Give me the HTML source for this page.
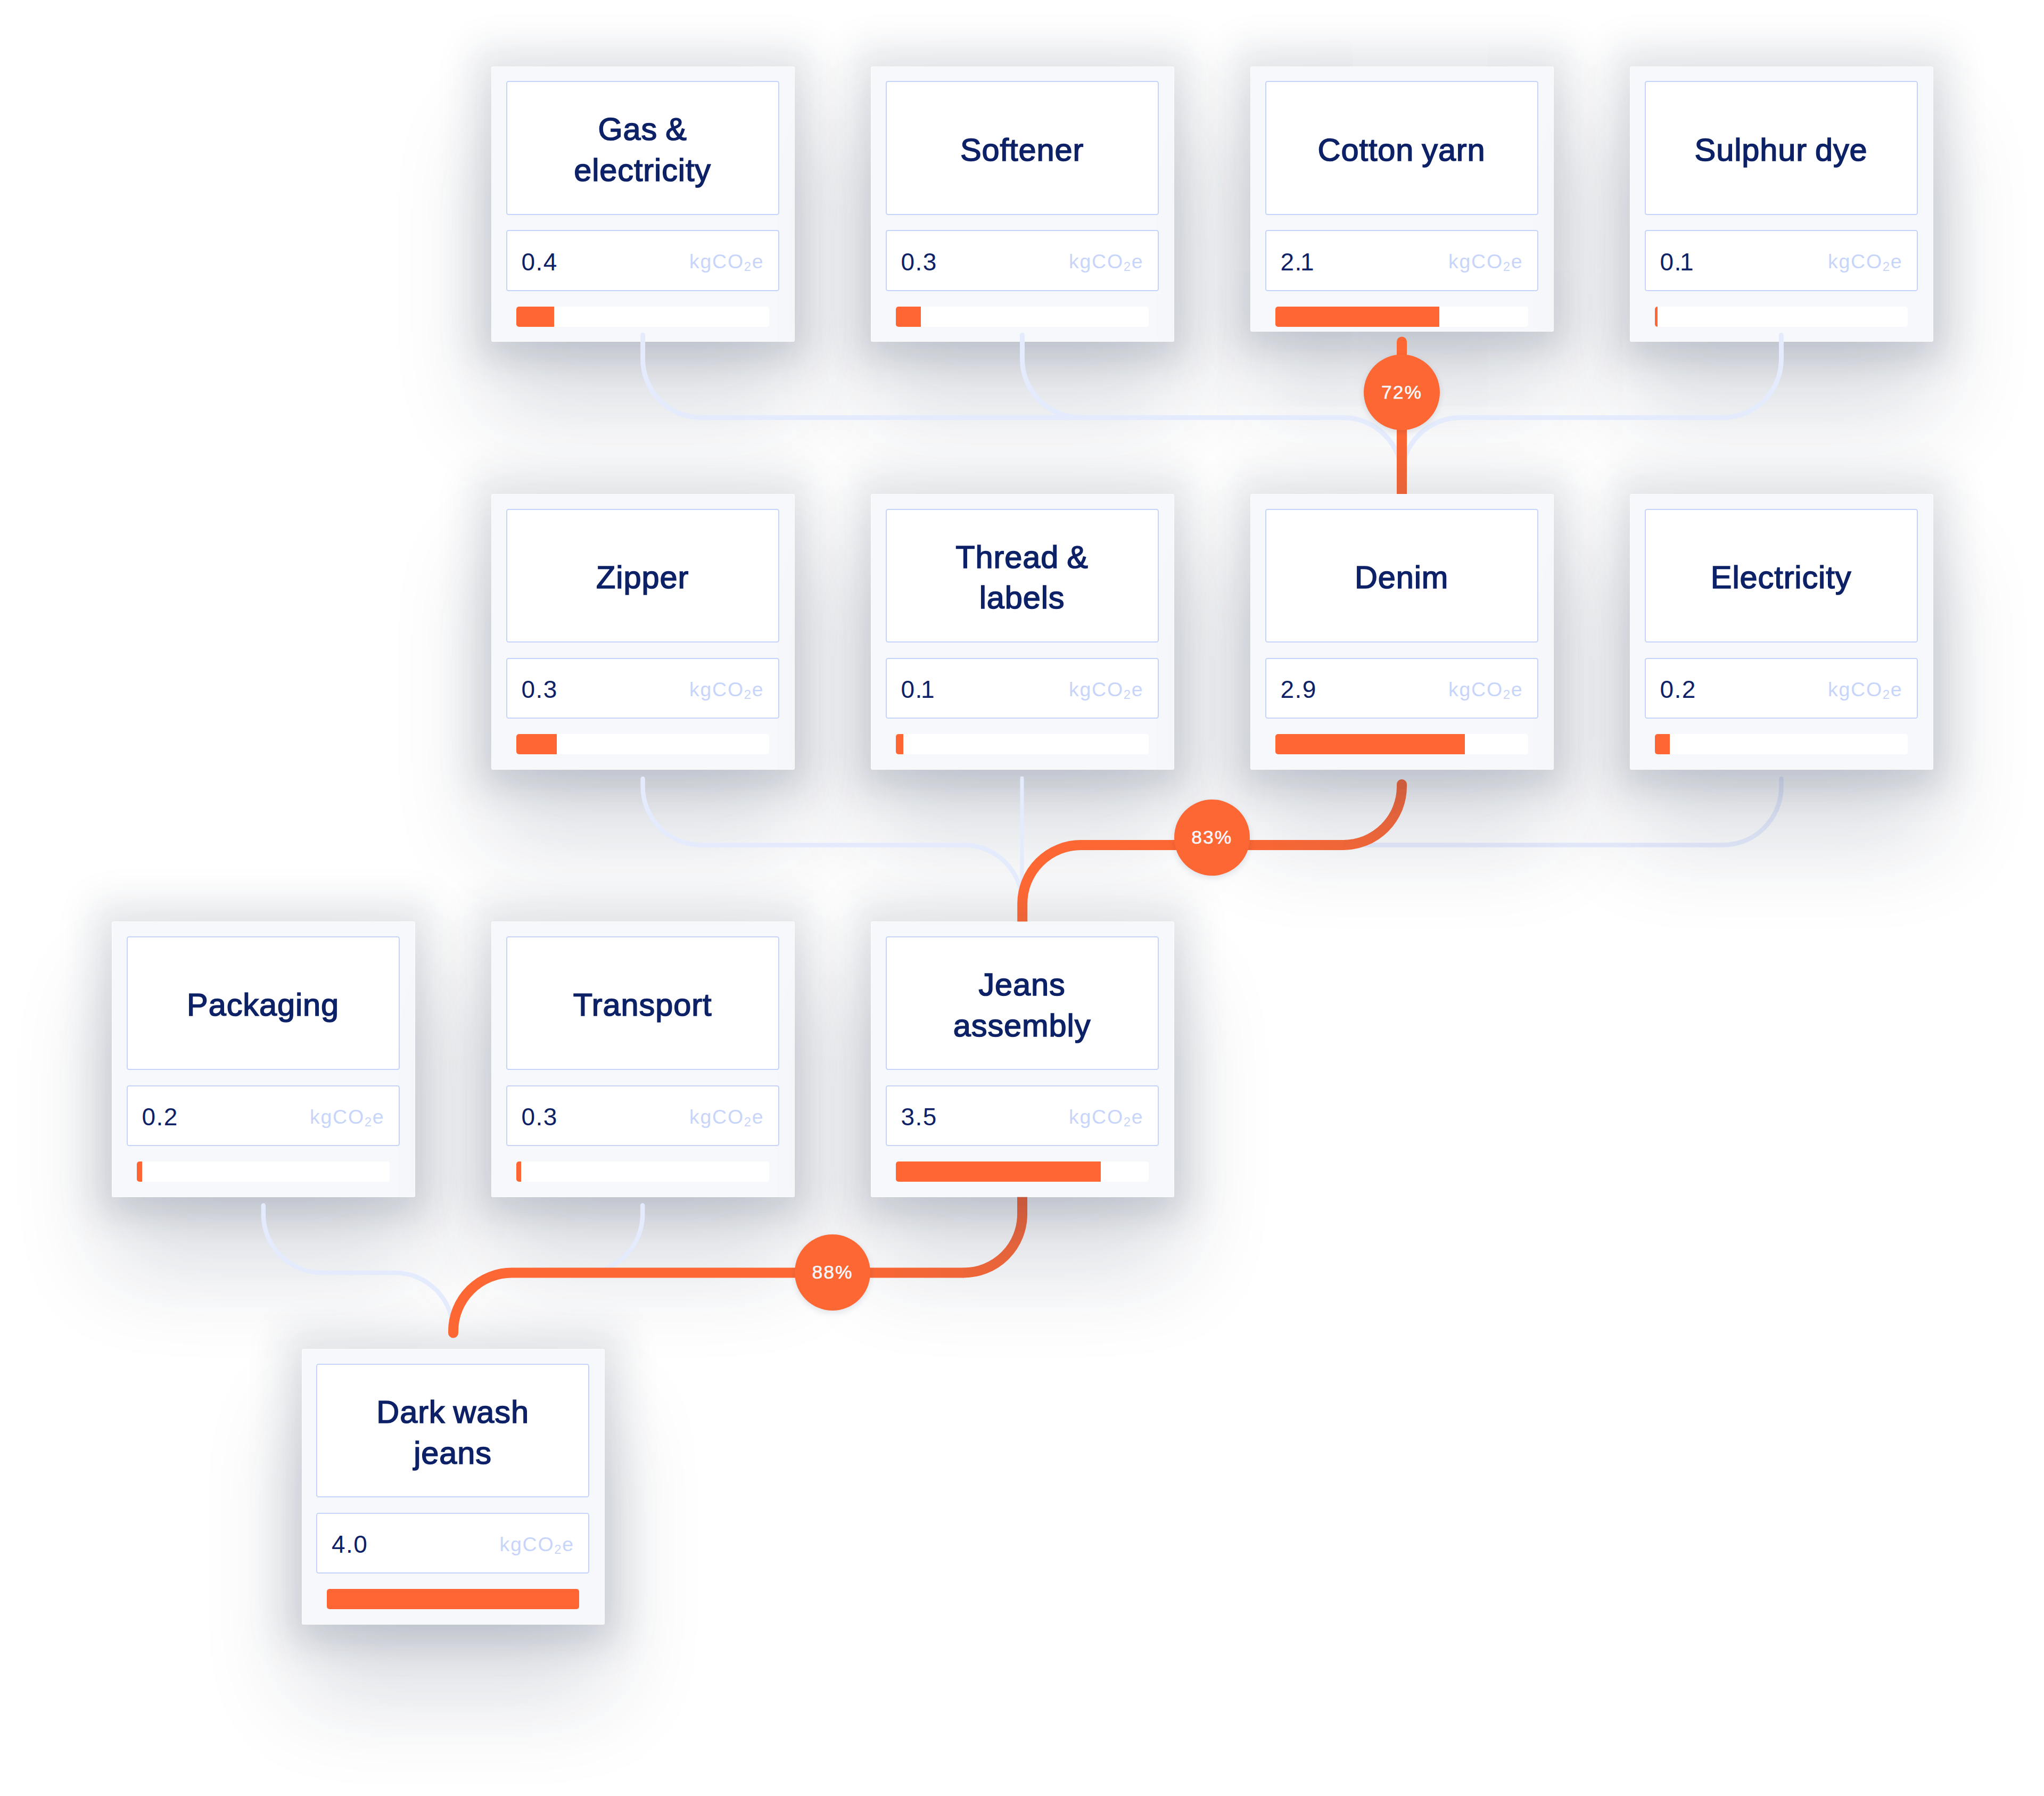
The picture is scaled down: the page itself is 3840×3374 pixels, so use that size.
<!DOCTYPE html>
<html lang="en">
<head>
<meta charset="utf-8">
<title>Dark wash jeans carbon footprint</title>
<style>
html,body{margin:0;padding:0;background:#fff;}
body{width:3840px;height:3374px;overflow:hidden;font-family:"Liberation Sans",sans-serif;}
.stage{position:relative;width:3840px;height:3374px;overflow:hidden;background:#fff;}
.lines{position:absolute;left:0;top:0;}
.under{z-index:2;}
.over{z-index:4;}
.card{position:absolute;width:569.6px;box-sizing:border-box;background:#f7f8fc;border-radius:3.5px;box-shadow:0 0 0 1px rgba(255,255,255,.7) inset,0 30px 50px 0 rgba(30,42,95,.04),0 0 70px 36px rgba(30,42,73,.115),0 125px 180px 8px rgba(26,36,68,.155);}
.title{position:absolute;left:27.5px;top:27.5px;width:513.2px;height:251.5px;box-sizing:border-box;border:2.6px solid #c6d4fb;border-radius:4.5px;background:#fff;
 display:flex;align-items:center;justify-content:center;text-align:center;color:#0d2167;font-size:59.5px;line-height:76.5px;font-weight:normal;-webkit-text-stroke:1.6px #0d2167;letter-spacing:.9px;word-spacing:-2.5px;padding-top:8px;}
.value{position:absolute;left:27.5px;top:307.7px;width:513.2px;height:114.5px;box-sizing:border-box;border:2.6px solid #c6d4fb;border-radius:4.5px;background:#fff;color:#0d2167;}
.num{position:absolute;left:27px;top:3.5px;line-height:109px;font-size:46px;letter-spacing:1.5px;}
.unit{position:absolute;right:26.3px;top:3px;line-height:109px;font-size:37.5px;color:#c8d5fa;letter-spacing:1.7px;}
.unit sub{font-size:24px;vertical-align:baseline;position:relative;top:5px;}
.bar{position:absolute;left:47px;top:451px;width:474.8px;height:38px;border-radius:5px;background:#fff;overflow:hidden;}
.bar i{display:block;height:100%;background:#ff6633;}
.badge{position:absolute;z-index:6;width:142.5px;height:142.5px;border-radius:50%;background:#fd6733;color:#fff;font-size:35.5px;line-height:142px;text-align:center;letter-spacing:2px;-webkit-text-stroke:.6px #f6f7fc;color:#f6f7fc;box-shadow:0 4px 12px rgba(20,30,70,.12);}

.num b{font-weight:normal;margin-left:-4px;}

</style>
</head>
<body>
<div class="stage">
<svg class="lines under" width="3840" height="3374" viewBox="0 0 3840 3374" fill="none" stroke-linecap="round" stroke-linejoin="round">
<path d="M3346.5 1463V1477.5A110 110 0 0 1 3236.5 1587.5H2520" stroke="#e8efff" stroke-width="8.5"/>
</svg>
<svg class="lines over" width="3840" height="3374" viewBox="0 0 3840 3374" fill="none" stroke-linecap="round" stroke-linejoin="round">
<defs>
<linearGradient id="g1" gradientUnits="userSpaceOnUse" x1="0" y1="632" x2="0" y2="928"><stop offset="0" stop-color="#fd6733"/><stop offset=".62" stop-color="#fd6733"/><stop offset="1" stop-color="#e6623a"/></linearGradient>
<linearGradient id="g2a" gradientUnits="userSpaceOnUse" x1="0" y1="1464" x2="0" y2="1597"><stop offset="0" stop-color="#cd5c3d"/><stop offset=".55" stop-color="#e3633b"/><stop offset="1" stop-color="#ef6638"/></linearGradient>
<linearGradient id="g2b" gradientUnits="userSpaceOnUse" x1="2525" y1="0" x2="2290" y2="0"><stop offset="0" stop-color="#ef6638"/><stop offset="1" stop-color="#fd6733"/></linearGradient>
<linearGradient id="g2c" gradientUnits="userSpaceOnUse" x1="0" y1="1578" x2="0" y2="1732"><stop offset="0" stop-color="#fd6733"/><stop offset=".6" stop-color="#fd6733"/><stop offset="1" stop-color="#ea6337"/></linearGradient>
<linearGradient id="g3a" gradientUnits="userSpaceOnUse" x1="0" y1="2249" x2="0" y2="2401"><stop offset="0" stop-color="#c6583b"/><stop offset=".55" stop-color="#e0623c"/><stop offset="1" stop-color="#ef6638"/></linearGradient>
<linearGradient id="g3b" gradientUnits="userSpaceOnUse" x1="1812" y1="0" x2="1580" y2="0"><stop offset="0" stop-color="#ef6638"/><stop offset="1" stop-color="#fd6733"/></linearGradient>
</defs>
<g stroke="#e3ebfc" stroke-width="9">
<path d="M1207.6 629.5V674.5A110 110 0 0 0 1317.6 784.5H2523.5A110 110 0 0 1 2633.5 894.5"/>
<path d="M1920.5 629.5V674.5A110 110 0 0 0 2030.5 784.5H2523.5"/>
<path d="M3346.5 629.5V674.5A110 110 0 0 1 3236.5 784.5H2743.5A110 110 0 0 0 2633.5 894.5"/>
</g>
<g stroke="#e3ebfc" stroke-width="8.5">
<path d="M1207.6 1463V1477.5A110 110 0 0 0 1317.6 1587.5H1810.7A110 110 0 0 1 1920.7 1697.5"/>
<path d="M1920 1462V1700" stroke-width="7"/>
<path d="M494.8 2264.5V2281A110 110 0 0 0 604.8 2391H741.5A110 110 0 0 1 851.5 2501V2513"/>
<path d="M1207.2 2264.5V2281A110 110 0 0 1 1097.2 2391H961.5"/>
</g>
<g stroke-width="19" stroke-linecap="butt">
<path d="M2633.5 642V928" stroke="url(#g1)"/>
<path d="M2633.5 1473.5V1477.5A110 110 0 0 1 2523.5 1587.5H2522" stroke="url(#g2a)"/>
<path d="M2523.5 1587.5H2289" stroke="url(#g2b)"/>
<path d="M2290 1587.5H2030.7A110 110 0 0 0 1920.7 1697.5V1731.3" stroke="url(#g2c)"/>
<path d="M1920.5 2248.8V2281A110 110 0 0 1 1810.5 2391H1809" stroke="url(#g3a)"/>
<path d="M1810.5 2391H1579" stroke="url(#g3b)"/>
<path d="M1580 2391H961.5A110 110 0 0 0 851.5 2501V2504" stroke="#fd6733"/>
</g>
<circle cx="2633.5" cy="642" r="9.5" fill="#fd6733"/>
<circle cx="2633.5" cy="1473.5" r="9.5" fill="#cd5c3d"/>
<circle cx="851.5" cy="2504" r="9.5" fill="#fd6733"/>
</svg>

<div class="card" style="left:923px;top:124.5px;height:517.5px;z-index:1"><div class="title"><span>Gas &amp;<br>electricity</span></div><div class="value"><span class="num">0.4</span><span class="unit">kgCO<sub>2</sub>e</span></div><div class="bar"><i style="width:71.3px"></i></div></div>
<div class="card" style="left:1636px;top:124.5px;height:517.5px;z-index:1"><div class="title"><span>Softener</span></div><div class="value"><span class="num">0.3</span><span class="unit">kgCO<sub>2</sub>e</span></div><div class="bar"><i style="width:47px"></i></div></div>
<div class="card" style="left:2349px;top:124.5px;height:498px;z-index:1"><div class="title"><span>Cotton yarn</span></div><div class="value"><span class="num">2.<b>1</b></span><span class="unit">kgCO<sub>2</sub>e</span></div><div class="bar"><i style="width:308px"></i></div></div>
<div class="card" style="left:3062px;top:124.5px;height:517.5px;z-index:1"><div class="title"><span>Sulphur dye</span></div><div class="value"><span class="num">0.<b>1</b></span><span class="unit">kgCO<sub>2</sub>e</span></div><div class="bar"><i style="width:5px"></i></div></div>
<div class="card" style="left:923px;top:928px;height:517.5px;z-index:3"><div class="title"><span>Zipper</span></div><div class="value"><span class="num">0.3</span><span class="unit">kgCO<sub>2</sub>e</span></div><div class="bar"><i style="width:76px"></i></div></div>
<div class="card" style="left:1636px;top:928px;height:517.5px;z-index:3"><div class="title"><span>Thread &amp;<br>labels</span></div><div class="value"><span class="num">0.<b>1</b></span><span class="unit">kgCO<sub>2</sub>e</span></div><div class="bar"><i style="width:14px"></i></div></div>
<div class="card" style="left:2349px;top:928px;height:517.5px;z-index:3"><div class="title"><span>Denim</span></div><div class="value"><span class="num">2.9</span><span class="unit">kgCO<sub>2</sub>e</span></div><div class="bar"><i style="width:356px"></i></div></div>
<div class="card" style="left:3062px;top:928px;height:517.5px;z-index:3"><div class="title"><span>Electricity</span></div><div class="value"><span class="num">0.2</span><span class="unit">kgCO<sub>2</sub>e</span></div><div class="bar"><i style="width:28px"></i></div></div>
<div class="card" style="left:210px;top:1731.3px;height:517.5px;z-index:3"><div class="title"><span>Packaging</span></div><div class="value"><span class="num">0.2</span><span class="unit">kgCO<sub>2</sub>e</span></div><div class="bar"><i style="width:9.6px"></i></div></div>
<div class="card" style="left:923px;top:1731.3px;height:517.5px;z-index:3"><div class="title"><span>Transport</span></div><div class="value"><span class="num">0.3</span><span class="unit">kgCO<sub>2</sub>e</span></div><div class="bar"><i style="width:9.4px"></i></div></div>
<div class="card" style="left:1636px;top:1731.3px;height:517.5px;z-index:3"><div class="title"><span>Jeans<br>assembly</span></div><div class="value"><span class="num">3.5</span><span class="unit">kgCO<sub>2</sub>e</span></div><div class="bar"><i style="width:385px"></i></div></div>
<div class="card" style="left:566.5px;top:2534.3px;height:517.5px;z-index:3"><div class="title"><span>Dark wash<br>jeans</span></div><div class="value"><span class="num">4.0</span><span class="unit">kgCO<sub>2</sub>e</span></div><div class="bar"><i style="width:474.8px"></i></div></div>
<div class="badge" style="left:2562.3px;top:665.8px">72%</div>
<div class="badge" style="left:2205.5px;top:1502.1px">83%</div>
<div class="badge" style="left:1492.8px;top:2319.2px">88%</div>
</div>
</body>
</html>
